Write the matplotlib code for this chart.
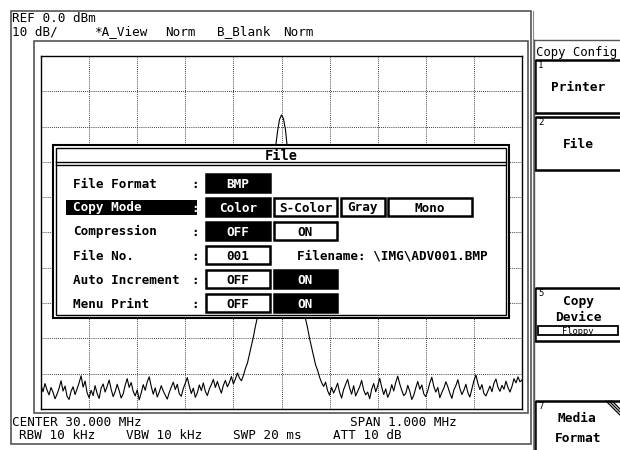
import numpy as np
import matplotlib
matplotlib.use("Agg")
import matplotlib.pyplot as plt
from matplotlib.patches import Rectangle

# spectrum trace: 241 points across the 1 MHz span (offset from centre, kHz)
freq_khz = np.linspace(-500, 500, 241)
noise_left = [
    -93.2, -95.1, -92.8, -94.6, -96.0, -93.9, -95.3, -97.1, -95.8, -94.2,
    -92.0, -94.9, -93.5, -96.4, -97.3, -95.0, -93.7, -95.9, -94.3, -92.6,
    -90.6, -93.8, -92.1, -95.4, -96.8, -94.7, -96.2, -93.4, -95.6, -97.0,
    -94.1, -92.9, -95.2, -93.6, -91.8, -94.4, -96.5, -95.1, -93.0, -94.8,
    -96.9, -95.7, -93.3, -91.4, -93.9, -92.5, -95.0, -96.3, -94.6, -97.4,
    -95.5, -93.1, -94.7, -92.3, -90.9, -93.6, -95.8, -94.0, -96.6, -95.2,
    -93.4, -94.9, -96.1, -97.2, -95.3, -93.8, -92.4, -94.5, -93.0, -95.7,
    -96.4, -94.2, -92.7, -91.1, -93.5, -95.6, -94.1, -96.7, -95.4, -93.2,
    -94.8, -92.6, -95.0, -96.2, -94.3, -93.1, -91.6, -93.9, -92.2, -94.0,
    -95.5, -93.3, -91.9, -93.7, -92.5, -90.8, -92.9, -91.5, -89.8, -91.2,
]
carrier = [
    -92.0, -90.5, -88.5, -87.0, -84.5, -82.0, -79.5, -76.5, -74.0, -68.5,
    -63.0, -58.0, -52.5, -47.5, -42.0, -36.0, -30.5, -26.0, -21.5, -18.0,
    -16.7,
    -17.8, -21.0, -26.5, -31.0, -36.5, -42.5, -48.0, -53.0, -58.5, -63.5,
    -69.0, -74.5, -77.0, -80.0, -82.5, -85.0, -87.5, -89.0, -91.0, -92.5,
]
noise_right = [
    -93.6, -92.4, -94.8, -96.1, -93.9, -95.5, -94.2, -92.7, -95.3, -96.9,
    -94.5, -93.0, -91.6, -94.1, -95.8, -93.4, -96.3, -95.0, -93.7, -91.9,
    -94.6, -96.0, -95.2, -97.1, -94.4, -92.8, -95.1, -93.5, -91.3, -93.8,
    -95.9, -94.3, -96.7, -95.4, -93.1, -94.9, -92.5, -90.7, -92.9, -94.7,
    -96.2, -95.6, -93.3, -95.0, -97.3, -96.1, -94.0, -92.2, -94.4, -93.2,
    -95.7, -96.5, -94.8, -92.6, -91.0, -93.6, -95.2, -93.9, -96.8, -95.3,
    -94.1, -92.3, -93.7, -95.5, -97.0, -94.6, -93.4, -91.7, -94.2, -95.9,
    -94.7, -93.0, -95.4, -96.6, -94.3, -92.0, -90.4, -92.8, -94.5, -93.1,
    -95.6, -96.3, -94.9, -93.5, -95.1, -92.7, -91.5, -93.8, -95.0, -93.3,
    -94.4, -92.1, -93.9, -95.2, -93.6, -91.4, -92.6, -90.9, -92.3, -91.8,
]
level_dbm = noise_left + carrier + noise_right

ref_level = 0.0
db_per_div = 10
n_div = 10

# dialog contents
dlg_labels = ["File Format", "Copy Mode", "Compression", "File No.",
              "Auto Increment", "Menu Print"]
copy_modes = ["Color", "S-Color", "Gray", "Mono"]
filename = "Filename: \\IMG\\ADV001.BMP"

# soft keys on the right
softkeys = [("1", ["Printer"]), ("2", ["File"]), ("5", ["Copy", "Device"]),
            ("7", ["Media", "Format"])]

MONO = "DejaVu Sans Mono"
FS = 9.1

fig = plt.figure(figsize=(6.2, 4.5), dpi=100)
fig.patch.set_facecolor("white")

bg = fig.add_axes([0, 0, 1, 1], zorder=0)
bg.set_xlim(0, 620)
bg.set_ylim(450, 0)
bg.axis("off")


def rect(a, x0, y0, x1, y1, fc="none", ec="black", lw=1.0, z=1):
    a.add_patch(Rectangle((x0, y0), x1 - x0, y1 - y0, facecolor=fc,
                          edgecolor=ec, linewidth=lw, zorder=z))


def txt(a, x, y, s, ha="left", color="black", fs=FS, weight="normal", z=5):
    a.text(x, y, s, ha=ha, va="baseline", fontsize=fs, family=MONO,
           color=color, fontweight=weight, zorder=z)


# screen frames
rect(bg, 11, 11, 531, 444, ec="#555555", lw=1.2)
bg.plot([533, 533], [11, 450], color="#888888", lw=0.8)
rect(bg, 34, 41, 528, 413, ec="#555555", lw=1.2)

# header / footer annotation
txt(bg, 12, 21.5, "REF %.1f dBm" % ref_level)
txt(bg, 12, 35.5, "%d dB/" % db_per_div)
txt(bg, 95, 35.5, "*A_View")
txt(bg, 165, 35.5, "Norm")
txt(bg, 217, 35.5, "B_Blank")
txt(bg, 283, 35.5, "Norm")
txt(bg, 12, 426, "CENTER 30.000 MHz")
txt(bg, 350, 426, "SPAN 1.000 MHz")
txt(bg, 19, 439, "RBW 10 kHz")
txt(bg, 126, 439, "VBW 10 kHz")
txt(bg, 233, 439, "SWP 20 ms")
txt(bg, 333, 439, "ATT 10 dB")

# right hand soft key panel
bg.plot([534, 620], [40, 40], color="#555555", lw=1.0)
bg.plot([534, 534], [40, 450], color="#555555", lw=1.0)
txt(bg, 536, 56, "Copy Config", fs=8.8)
key_boxes = [(60, 113), (117, 170), (288, 341), (401, 455)]
for (num, lines), (y0, y1) in zip(softkeys, key_boxes):
    rect(bg, 535, y0, 625, y1, lw=1.8)
    txt(bg, 538, y0 + 8, num, fs=6.5)
    if len(lines) == 1:
        txt(bg, 578, (y0 + y1) / 2 + 4.5, lines[0], ha="center", weight="bold", fs=9.3)
    elif num == "5":
        txt(bg, 578, y0 + 17, lines[0], ha="center", weight="bold", fs=9.3)
        txt(bg, 578, y0 + 33, lines[1], ha="center", weight="bold", fs=9.3)
    else:
        txt(bg, 577, y0 + 21, lines[0], ha="center", weight="bold", fs=9.3)
        txt(bg, 578, y0 + 41, lines[1], ha="center", weight="bold", fs=9.3)
rect(bg, 538, 326, 618, 335, lw=1.3)
txt(bg, 578, 333.5, "Floppy", ha="center", fs=6.3)
for d in (0, 3, 6):
    bg.plot([606 + d, 620], [401, 415 - d], color="black", lw=0.9)

# spectrum graticule
ax = fig.add_axes([41 / 620, 1 - 409 / 450, 481 / 620, 353 / 450], zorder=1)
ax.set_xlim(freq_khz[0], freq_khz[-1])
ax.set_ylim(ref_level - n_div * db_per_div, ref_level)
ax.set_xticks(np.linspace(-500, 500, 11))
ax.set_yticks(np.linspace(ref_level - 100, ref_level, 11))
ax.tick_params(left=False, bottom=False, labelleft=False, labelbottom=False)
ax.grid(True, color="black", linestyle=(0, (1, 1.5)), linewidth=0.6)
for s in ax.spines.values():
    s.set_linewidth(1.0)
ax.plot(freq_khz, level_dbm, color="black", lw=0.8)

# File dialog on top
top = fig.add_axes([0, 0, 1, 1], zorder=2)
top.set_xlim(0, 620)
top.set_ylim(450, 0)
top.axis("off")
top.patch.set_alpha(0)

rect(top, 53, 145, 509, 318, fc="white", lw=1.5)
rect(top, 56, 148, 506, 315, lw=1.0)
top.plot([56, 506], [162, 162], color="black", lw=1.0)
top.plot([56, 506], [165, 165], color="black", lw=1.0)
txt(top, 281, 159.5, "File", ha="center", fs=9.8, weight="bold")

row_y = [183, 207, 231, 255, 279, 303]
rect(top, 66, 200, 197, 215, fc="black", lw=0)
for lab, yc in zip(dlg_labels, row_y):
    col = "white" if lab == "Copy Mode" else "black"
    txt(top, 73, yc + 4.5, lab, color=col, weight="bold")
    txt(top, 195, yc + 4.5, ":", ha="center", color=col, weight="bold")


def valbox(x0, x1, yc, label, filled):
    rect(top, x0, yc - 9, x1, yc + 9, fc="black" if filled else "white",
         lw=1.8)
    txt(top, (x0 + x1) / 2, yc + 4.5, label, ha="center",
        color="white" if filled else "black", weight="bold")


valbox(206, 270, row_y[0], "BMP", True)
mode_cols = [(206, 270), (274, 337), (341, 385), (388, 472)]
for m, (x0, x1) in zip(copy_modes, mode_cols):
    valbox(x0, x1, row_y[1], m, m == "Color")
valbox(206, 270, row_y[2], "OFF", True)
valbox(274, 337, row_y[2], "ON", False)
valbox(206, 270, row_y[3], "001", False)
txt(top, 297, row_y[3] + 4.5, filename, weight="bold")
valbox(206, 270, row_y[4], "OFF", False)
valbox(274, 337, row_y[4], "ON", True)
valbox(206, 270, row_y[5], "OFF", False)
valbox(274, 337, row_y[5], "ON", True)

fig.savefig("out.png", dpi=100)
